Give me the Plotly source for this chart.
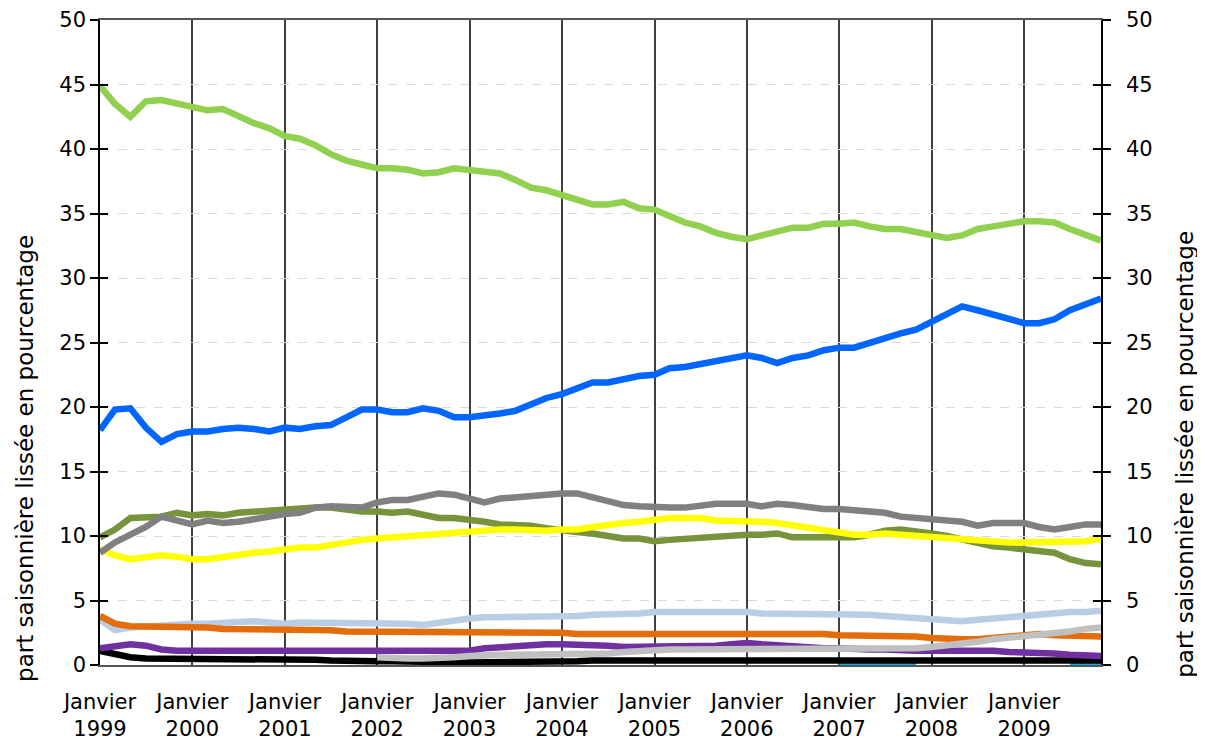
import plotly.graph_objects as go
import pandas as pd

# one value every two months, Jan 1999 .. Nov 2009
months = pd.date_range("1999-01-01", periods=66, freq="2MS")
years = list(range(1999, 2010))

vert_clair = [
    44.9, 43.5, 42.5, 43.7, 43.8, 43.5,
    43.3, 43.0, 43.1, 42.5, 42.0, 41.6,
    41.0, 40.8, 40.3, 39.6, 39.1, 38.8,
    38.5, 38.5, 38.4, 38.1, 38.2, 38.5,
    38.4, 38.2, 38.1, 37.6, 37.0, 36.8,
    36.4, 36.0, 35.7, 35.7, 35.9, 35.4,
    35.3, 34.8, 34.3, 34.0, 33.5, 33.2,
    33.0, 33.3, 33.6, 33.9, 33.9, 34.2,
    34.2, 34.3, 34.0, 33.8, 33.8, 33.6,
    33.3, 33.1, 33.3, 33.8, 34.0, 34.2,
    34.4, 34.4, 34.3, 33.8, 33.3, 32.9,
]
bleu = [
    18.2, 19.8, 19.9, 18.4, 17.3, 17.9,
    18.1, 18.1, 18.3, 18.4, 18.3, 18.1,
    18.4, 18.3, 18.5, 18.6, 19.2, 19.8,
    19.8, 19.6, 19.6, 19.9, 19.7, 19.2,
    19.2, 19.3, 19.5, 19.7, 20.2, 20.7,
    21.0, 21.5, 21.9, 21.9, 22.2, 22.4,
    22.5, 23.0, 23.1, 23.3, 23.5, 23.7,
    24.0, 23.8, 23.4, 23.8, 24.0, 24.4,
    24.6, 24.6, 25.0, 25.3, 25.7, 26.0,
    26.6, 27.3, 27.8, 27.5, 27.2, 26.9,
    26.5, 26.5, 26.8, 27.5, 27.9, 28.4,
]
gris = [
    8.7, 9.5, 10.1, 10.7, 11.5, 11.2,
    10.9, 11.2, 11.0, 11.1, 11.3, 11.6,
    11.7, 11.8, 12.2, 12.3, 12.2, 12.2,
    12.6, 12.8, 12.8, 13.0, 13.3, 13.2,
    12.9, 12.6, 12.9, 13.0, 13.2, 13.3,
    13.3, 13.3, 13.0, 12.6, 12.4, 12.3,
    12.2, 12.2, 12.2, 12.4, 12.5, 12.5,
    12.5, 12.3, 12.5, 12.4, 12.2, 12.1,
    12.1, 12.0, 12.0, 11.8, 11.5, 11.4,
    11.2, 11.1, 11.1, 10.8, 11.0, 11.0,
    11.0, 10.7, 10.5, 10.7, 10.9, 10.9,
]
olive = [
    9.9, 10.5, 11.4, 11.5, 11.5, 11.8,
    11.6, 11.7, 11.6, 11.8, 11.9, 12.0,
    12.1, 12.2, 12.2, 12.2, 12.0, 11.9,
    11.9, 11.8, 11.9, 11.7, 11.4, 11.4,
    11.3, 11.1, 10.9, 10.9, 10.8, 10.6,
    10.4, 10.3, 10.2, 10.0, 9.8, 9.8,
    9.6, 9.7, 9.8, 9.9, 10.0, 10.1,
    10.1, 10.1, 10.2, 9.9, 9.9, 9.8,
    9.8, 9.9, 10.1, 10.4, 10.5, 10.4,
    10.2, 10.0, 9.7, 9.4, 9.2, 9.1,
    9.0, 8.8, 8.7, 8.2, 7.9, 7.8,
]
jaune = [
    9.0, 8.5, 8.2, 8.4, 8.5, 8.4,
    8.2, 8.2, 8.4, 8.6, 8.7, 8.8,
    9.0, 9.1, 9.1, 9.3, 9.6, 9.7,
    9.8, 9.9, 10.0, 10.0, 10.1, 10.3,
    10.4, 10.4, 10.5, 10.5, 10.4, 10.4,
    10.5, 10.5, 10.7, 10.9, 11.0, 11.1,
    11.3, 11.4, 11.4, 11.4, 11.2, 11.2,
    11.1, 11.1, 11.0, 10.8, 10.6, 10.5,
    10.2, 10.1, 10.1, 10.2, 10.1, 10.0,
    10.0, 9.9, 9.8, 9.6, 9.5, 9.5,
    9.5, 9.5, 9.5, 9.5, 9.6, 9.8,
]
bleu_clair = [
    3.5, 2.7, 2.9, 3.0, 3.1, 3.2,
    3.2, 3.2, 3.3, 3.4, 3.4, 3.3,
    3.2, 3.3, 3.3, 3.3, 3.2, 3.3,
    3.3, 3.2, 3.2, 3.1, 3.3, 3.4,
    3.6, 3.7, 3.7, 3.7, 3.7, 3.7,
    3.7, 3.8, 3.9, 3.9, 4.0, 4.0,
    4.1, 4.1, 4.1, 4.1, 4.2, 4.2,
    4.1, 4.0, 4.0, 4.0, 4.0, 3.9,
    3.9, 3.9, 3.9, 3.8, 3.7, 3.6,
    3.5, 3.4, 3.4, 3.5, 3.6, 3.7,
    3.8, 4.0, 4.1, 4.1, 4.1, 4.2,
]
orange = [
    3.8, 3.2, 3.0, 3.0, 2.9, 2.9,
    2.9, 2.9, 2.8, 2.8, 2.7, 2.8,
    2.8, 2.8, 2.7, 2.7, 2.6, 2.6,
    2.6, 2.6, 2.6, 2.5, 2.5, 2.5,
    2.6, 2.6, 2.6, 2.6, 2.5, 2.5,
    2.5, 2.4, 2.4, 2.4, 2.4, 2.4,
    2.4, 2.4, 2.4, 2.5, 2.5, 2.5,
    2.5, 2.5, 2.5, 2.4, 2.4, 2.4,
    2.3, 2.3, 2.3, 2.2, 2.2, 2.2,
    2.1, 2.0, 2.0, 2.0, 2.1, 2.2,
    2.3, 2.4, 2.3, 2.3, 2.3, 2.2,
]
violet = [
    1.3, 1.5, 1.6, 1.5, 1.2, 1.1,
    1.1, 1.1, 1.1, 1.1, 1.1, 1.1,
    1.1, 1.1, 1.1, 1.1, 1.1, 1.1,
    1.1, 1.1, 1.1, 1.0, 1.1, 1.0,
    1.1, 1.3, 1.4, 1.5, 1.6, 1.6,
    1.6, 1.6, 1.5, 1.5, 1.4, 1.4,
    1.5, 1.5, 1.5, 1.5, 1.5, 1.6,
    1.7, 1.6, 1.5, 1.5, 1.4, 1.3,
    1.3, 1.2, 1.2, 1.2, 1.1, 1.1,
    1.1, 1.1, 1.2, 1.1, 1.1, 1.0,
    1.0, 0.9, 0.9, 0.8, 0.8, 0.7,
]
noir = [
    1.1, 0.8, 0.6, 0.5, 0.5, 0.45,
    0.4, 0.4, 0.4, 0.4, 0.4, 0.4,
    0.4, 0.4, 0.4, 0.35, 0.3, 0.3,
    0.3, 0.3, 0.25, 0.25, 0.2, 0.2,
    0.2, 0.2, 0.25, 0.25, 0.25, 0.25,
    0.3, 0.3, 0.35, 0.35, 0.4, 0.4,
    0.45, 0.45, 0.4, 0.4, 0.4, 0.4,
    0.4, 0.4, 0.4, 0.4, 0.4, 0.4,
    0.4, 0.4, 0.4, 0.4, 0.4, 0.4,
    0.35, 0.35, 0.35, 0.35, 0.35, 0.35,
    0.35, 0.35, 0.35, 0.35, 0.35, 0.35,
]
gris_clair = [None] * 18 + [
    0.6, 0.5, 0.5, 0.5, 0.5, 0.6,
    0.7, 0.8, 0.8, 0.8, 0.8, 0.8,
    0.8, 0.85, 0.9, 0.9, 1.0, 1.1,
    1.1, 1.2, 1.2, 1.2, 1.2, 1.3,
    1.3, 1.3, 1.3, 1.3, 1.3, 1.3,
    1.3, 1.3, 1.3, 1.3, 1.3, 1.3,
    1.4, 1.5, 1.6, 1.8, 2.0, 2.1,
    2.2, 2.3, 2.5, 2.6, 2.8, 2.9,
]
cyan = [None] * 48 + [0, 0, 0, 0, 0, 0] + [None] * 9 + [0, 0, 0]

# drawing order: bottom first
series = [
    (cyan, "#00B0F0"),
    (noir, "#000000"),
    (bleu_clair, "#B9CDE5"),
    (orange, "#E46C0A"),
    (violet, "#7030A0"),
    (gris_clair, "#C0C0C0"),
    (olive, "#77933C"),
    (jaune, "#FFFF00"),
    (gris, "#808080"),
    (bleu, "#0066FF"),
    (vert_clair, "#92D050"),
]

fig = go.Figure()
for vals, col in series:
    fig.add_trace(go.Scatter(x=months, y=vals, mode="lines", showlegend=False,
                             line=dict(color=col, width=6.5), connectgaps=False))

font = dict(family="DejaVu Sans, Arial, sans-serif", size=21, color="black")
title_font = dict(family="DejaVu Sans, Arial, sans-serif", size=23, color="black")
yticks = list(range(0, 51, 5))
yrange = [0, 50]

# page body has an 8px margin, so the figure is sized to fit inside it
fig.update_layout(
    width=1189, height=733,
    margin=dict(l=92, r=96, t=12, b=76),
    plot_bgcolor="white", paper_bgcolor="white",
    font=font,
    xaxis=dict(
        range=["1999-01-01", "2009-11-01"],
        tickvals=[f"{y}-01-01" for y in years],
        ticktext=[f"Janvier<br>{y}" for y in years],
        showgrid=True, gridcolor="#404040", gridwidth=1.5,
        showline=True, linecolor="#555555", linewidth=1.5, mirror=True,
        ticks="", ticklabelstandoff=17, tickfont=font, automargin=False,
    ),
    yaxis=dict(
        range=yrange, tickvals=yticks, showgrid=True,
        gridcolor="#D9D9D9", griddash="dash", gridwidth=1,
        showline=True, linecolor="black", linewidth=1.5,
        ticks="outside", ticklen=8, tickcolor="black", tickwidth=1.5,
        tickfont=font, zeroline=False, automargin=False,
    ),
    yaxis2=dict(
        range=yrange, tickvals=yticks, overlaying="y", side="right",
        showgrid=False, showline=True, linecolor="black", linewidth=1.5,
        ticks="outside", ticklen=8, tickcolor="black", tickwidth=1.5,
        tickfont=font, ticklabelstandoff=11, zeroline=False, automargin=False,
    ),
    yaxis3=dict(
        range=yrange, tickvals=yticks, overlaying="y", side="left",
        showgrid=False, showticklabels=False, ticks="inside", ticklen=8,
        tickcolor="black", tickwidth=1.5, zeroline=False, automargin=False,
    ),
    yaxis4=dict(
        range=yrange, tickvals=yticks, overlaying="y", side="right",
        showgrid=False, showticklabels=False, ticks="inside", ticklen=8,
        tickcolor="black", tickwidth=1.5, zeroline=False, automargin=False,
    ),
)

# invisible traces so the extra axes are drawn
for ax in ["y2", "y3", "y4"]:
    fig.add_trace(go.Scatter(x=[months[0]], y=[None], yaxis=ax, showlegend=False,
                             hoverinfo="skip"))

titre = "part saisonnière lissée en pourcentage"
fig.add_annotation(text=titre, xref="paper", yref="paper", x=-0.075, y=0.321,
                   xanchor="center", yanchor="middle",
                   textangle=-90, showarrow=False, font=title_font)
fig.add_annotation(text=titre, xref="paper", yref="paper", x=1.084, y=0.326,
                   xanchor="center", yanchor="middle",
                   textangle=-90, showarrow=False, font=title_font)

fig.write_html("out.html")
